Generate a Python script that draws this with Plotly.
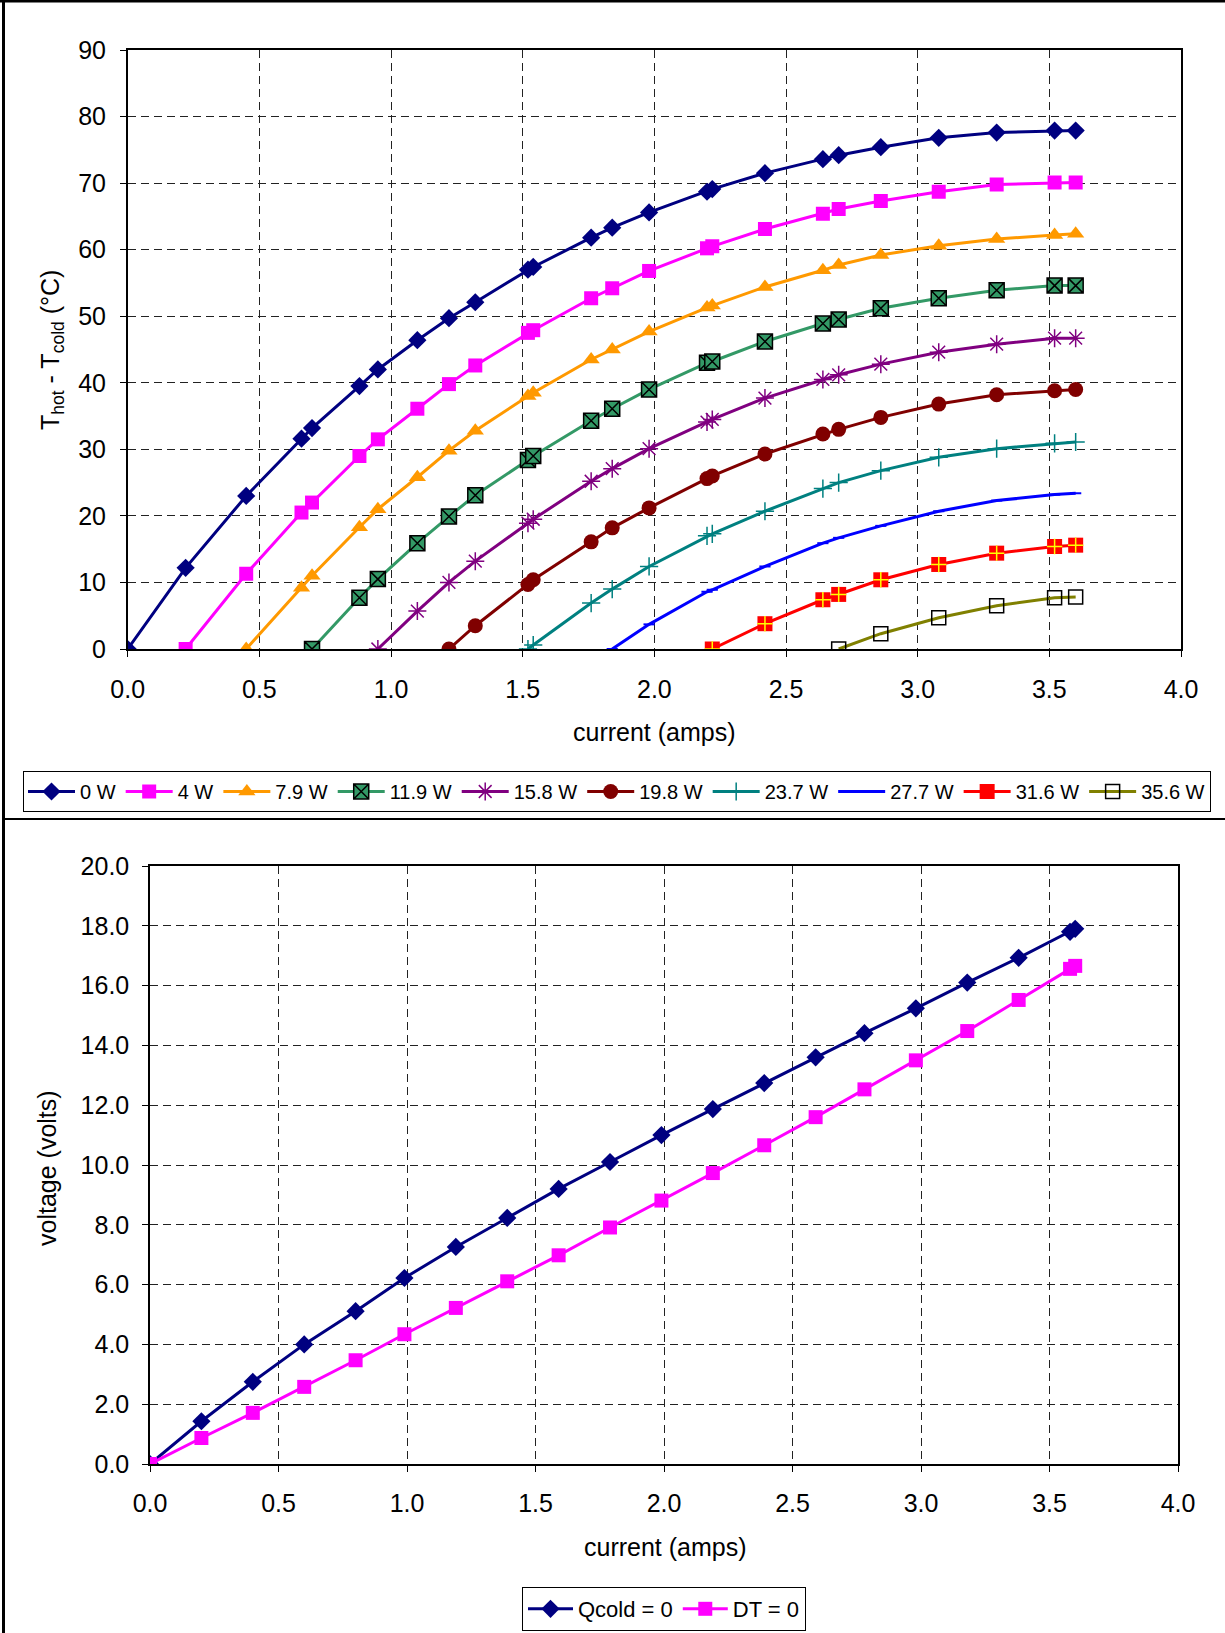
import plotly.graph_objects as go

W, H = 1225, 1633
FONT = "Liberation Sans, Arial, sans-serif"

# ---------------- top chart data ----------------
current_top = [0.00, 0.22, 0.45, 0.66, 0.70, 0.88, 0.95, 1.10, 1.22, 1.32, 1.52, 1.54,
               1.76, 1.84, 1.98, 2.20, 2.22, 2.42, 2.64, 2.70, 2.86, 3.08, 3.30, 3.52, 3.60]

dt_0w = [0, 12.2, 23.0, 31.6, 33.2, 39.5, 42.0, 46.4, 49.7, 52.1, 57.0, 57.4, 61.8, 63.3,
         65.6, 68.7, 69.1, 71.5, 73.6, 74.2, 75.4, 76.8, 77.6, 77.9, 77.9]
dt_4w = [0, 11.3, 20.5, 22.0, 29.0, 31.5, 36.1, 39.8, 42.6, 47.5, 47.9, 52.7, 54.2, 56.8,
         60.2, 60.5, 63.1, 65.4, 66.1, 67.3, 68.7, 69.8, 70.1, 70.1]
dt_7_9w = [0, 9.2, 11.0, 18.3, 21.0, 25.8, 29.8, 32.8, 38.0, 38.5, 43.5, 45.0, 47.7, 51.3,
           51.6, 54.4, 56.9, 57.7, 59.2, 60.6, 61.6, 62.2, 62.4]
dt_11_9w = [0, 7.7, 10.5, 15.9, 19.9, 23.1, 28.4, 29.0, 34.3, 36.1, 39.0, 43.0, 43.2, 46.2,
            48.9, 49.5, 51.2, 52.7, 53.9, 54.6, 54.6]
dt_15_8w = [0, 5.7, 10.0, 13.2, 18.9, 19.5, 25.2, 27.1, 30.1, 34.1, 34.5, 37.7, 40.5, 41.2,
            42.8, 44.6, 45.8, 46.7, 46.7]
dt_19_8w = [0, 3.5, 9.7, 10.4, 16.1, 18.2, 21.2, 25.6, 26.0, 29.3, 32.3, 33.0, 34.8, 36.8,
            38.2, 38.8, 39.0]
dt_23_7w = [0, 0.6, 6.9, 9.0, 12.4, 17.0, 17.3, 20.7, 24.1, 25.0, 26.8, 28.8, 30.1, 30.9, 31.1]
dt_27_7w = [0, 3.7, 8.6, 8.9, 12.4, 15.9, 16.7, 18.5, 20.7, 22.3, 23.2, 23.4]
dt_31_6w = [0, 3.8, 7.4, 8.2, 10.4, 12.7, 14.4, 15.4, 15.6]
dt_35_6w = [0, 2.3, 4.7, 6.5, 7.7, 7.8]

series_names = ["0 W", "4 W", "7.9 W", "11.9 W", "15.8 W", "19.8 W",
                "23.7 W", "27.7 W", "31.6 W", "35.6 W"]
series_values = [dt_0w, dt_4w, dt_7_9w, dt_11_9w, dt_15_8w, dt_19_8w,
                 dt_23_7w, dt_27_7w, dt_31_6w, dt_35_6w]

# ---------------- bottom chart data ----------------
current_bot = [0.00, 0.20, 0.40, 0.60, 0.80, 0.99, 1.19, 1.39, 1.59, 1.79, 1.99, 2.19,
               2.39, 2.59, 2.78, 2.98, 3.18, 3.38, 3.58, 3.60]
volt_qcold0 = [0, 1.43, 2.75, 4.00, 5.11, 6.22, 7.26, 8.23, 9.20, 10.10, 11.00, 11.87,
               12.74, 13.60, 14.41, 15.24, 16.10, 16.93, 17.80, 17.90]
volt_dt0 = [0, 0.87, 1.71, 2.58, 3.47, 4.34, 5.22, 6.11, 6.98, 7.91, 8.81, 9.73,
            10.66, 11.60, 12.53, 13.50, 14.48, 15.52, 16.56, 16.66]

top_xticks = [0.0, 0.5, 1.0, 1.5, 2.0, 2.5, 3.0, 3.5, 4.0]
top_yticks = list(range(0, 100, 10))
bot_yticks = [0, 2, 4, 6, 8, 10, 12, 14, 16, 18, 20]

# ---------------- styles ----------------
styles = [
    dict(line=dict(color="#000080", width=3),
         marker=dict(symbol="diamond", size=14, color="#000080")),
    dict(line=dict(color="#FF00FF", width=3),
         marker=dict(symbol="square", size=14, color="#FF00FF")),
    dict(line=dict(color="#FF9900", width=3),
         marker=dict(symbol="triangle-up", size=15, color="#FF9900")),
    dict(line=dict(color="#339966", width=3),
         marker=dict(symbol="square-x", size=15, color="#339966",
                     line=dict(color="black", width=1.5))),
    dict(line=dict(color="#800080", width=3),
         marker=dict(symbol="asterisk", size=15, color="#800080",
                     line=dict(color="#800080", width=1.5))),
    dict(line=dict(color="#800000", width=3),
         marker=dict(symbol="circle", size=15, color="#800000")),
    dict(line=dict(color="#008080", width=3),
         marker=dict(symbol="cross-thin", size=13, color="#008080",
                     line=dict(color="#008080", width=1.5))),
    dict(line=dict(color="#0000FF", width=3),
         marker=dict(symbol="line-ew", size=8, color="#0000FF",
                     line=dict(color="#0000FF", width=2))),
    dict(line=dict(color="#FF0000", width=3),
         marker=dict(symbol="square", size=15, color="#FF0000")),
    dict(line=dict(color="#808000", width=3),
         marker=dict(symbol="square-open", size=14, color="black",
                     line=dict(color="black", width=1.5))),
]

fig = go.Figure()
n_all = len(current_top)
for name, vals, st in zip(series_names, series_values, styles):
    xs = current_top[n_all - len(vals):]
    fig.add_trace(go.Scatter(x=xs, y=vals, name=name, mode="lines+markers",
                             xaxis="x", yaxis="y", legend="legend", legendgroup=name, **st))
    if name == "31.6 W":
        # yellow plus drawn inside the red squares
        fig.add_trace(go.Scatter(x=xs, y=vals, mode="markers", showlegend=False,
                                 legendgroup=name, hoverinfo="skip",
                                 xaxis="x", yaxis="y",
                                 marker=dict(symbol="cross-thin", size=11, color="#FFFF00",
                                             line=dict(color="#FFFF00", width=1.5))))

fig.add_trace(go.Scatter(x=current_bot, y=volt_qcold0, name="Qcold = 0",
                         mode="lines+markers", xaxis="x2", yaxis="y2", legend="legend2",
                         line=dict(color="#000080", width=3),
                         marker=dict(symbol="diamond", size=14, color="#000080")))
fig.add_trace(go.Scatter(x=current_bot, y=volt_dt0, name="DT = 0",
                         mode="lines+markers", xaxis="x2", yaxis="y2", legend="legend2",
                         line=dict(color="#FF00FF", width=3),
                         marker=dict(symbol="square", size=14, color="#FF00FF")))


def px_x(p):
    return p / W


def px_y(p):
    return 1 - p / H


grid = dict(showgrid=True, gridcolor="#222222", gridwidth=1, griddash="8px,5px",
            showline=True, linecolor="black", linewidth=1.5, mirror=True,
            ticks="outside", ticklen=6, tickcolor="black", zeroline=False,
            automargin=False,
            tickfont=dict(family=FONT, size=25, color="black"))

fig.update_layout(
    width=W, height=H, margin=dict(l=0, r=0, t=0, b=0, autoexpand=False),
    paper_bgcolor="white", plot_bgcolor="white",
    font=dict(family=FONT, color="black"),
    xaxis=dict(domain=[px_x(127.7), px_x(1181)], range=[0, 4], tickvals=top_xticks,
               tickformat=".1f", anchor="y", ticklabelstandoff=11, **grid),
    yaxis=dict(domain=[px_y(649), px_y(50)], range=[0, 90], tickvals=top_yticks,
               anchor="x", ticklabelstandoff=9, **grid),
    xaxis2=dict(domain=[px_x(150), px_x(1178)], range=[0, 4], tickvals=top_xticks,
                tickformat=".1f", anchor="y2", ticklabelstandoff=10, **grid),
    yaxis2=dict(domain=[px_y(1464), px_y(866)], range=[0, 20], tickvals=bot_yticks,
                tickformat=".1f", anchor="x2", ticklabelstandoff=8, **grid),
    legend=dict(orientation="h", x=px_x(23), y=px_y(771), xanchor="left", yanchor="top",
                bordercolor="black", borderwidth=1, bgcolor="white",
                font=dict(family=FONT, size=20, color="black"),
                itemwidth=47, tracegroupgap=0),
    legend2=dict(orientation="h", x=px_x(664), y=px_y(1587), xanchor="center",
                 yanchor="top", bordercolor="black", borderwidth=1, bgcolor="white",
                 font=dict(family=FONT, size=22, color="black"), itemwidth=45),
    showlegend=True,
)

annots = [
    dict(text="current (amps)", x=px_x(654), y=px_y(732)),
    dict(text="current (amps)", x=px_x(665), y=px_y(1547)),
    dict(text="T<sub>hot</sub> - T<sub>cold</sub> (°C)", x=px_x(52), y=px_y(350),
         textangle=-90),
    dict(text="voltage (volts)", x=px_x(47), y=px_y(1168), textangle=-90),
]
for a in annots:
    fig.add_annotation(xref="paper", yref="paper", showarrow=False,
                       xanchor="center", yanchor="middle",
                       font=dict(family=FONT, size=25, color="black"), **a)

# panel borders
shapes = [
    dict(type="line", x0=0, x1=1, y0=px_y(1), y1=px_y(1), line=dict(color="black", width=3)),
    dict(type="line", x0=px_x(3.5), x1=px_x(3.5), y0=0, y1=1, line=dict(color="black", width=3)),
    dict(type="line", x0=px_x(3.5), x1=1, y0=px_y(819), y1=px_y(819),
         line=dict(color="black", width=2)),
]
for s in shapes:
    fig.add_shape(xref="paper", yref="paper", layer="above", **s)

post = "document.body.style.margin='0';document.body.style.overflow='hidden';"
fig.write_html("out.html", config={"displayModeBar": False}, post_script=post)
